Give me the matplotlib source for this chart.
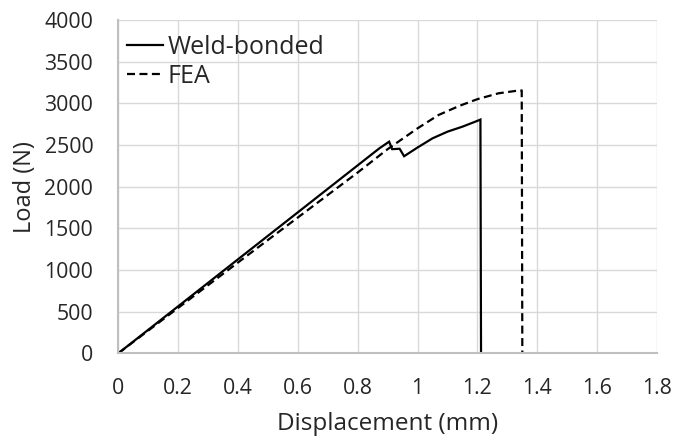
import matplotlib
matplotlib.use("Agg")
import matplotlib.pyplot as plt

plt.rcParams['font.family'] = ['Open Sans', 'DejaVu Sans']

weld_x = [0, 0.2, 0.4, 0.6, 0.8, 0.872, 0.905, 0.915, 0.94, 0.955, 1.0, 1.05, 1.1, 1.15, 1.2, 1.21, 1.212]
weld_y = [0, 564, 1128, 1692, 2256, 2459, 2540, 2450, 2455, 2365, 2470, 2580, 2660, 2720, 2790, 2805, 0]

fea_x = [0, 0.2, 0.4, 0.6, 0.8, 0.9, 1.0, 1.07, 1.14, 1.2, 1.27, 1.33, 1.348, 1.35]
fea_y = [0, 545, 1090, 1630, 2170, 2450, 2700, 2860, 2970, 3050, 3120, 3150, 3155, 0]

x_ticks = [0, 0.2, 0.4, 0.6, 0.8, 1.0, 1.2, 1.4, 1.6, 1.8]
x_labels = ['0', '0.2', '0.4', '0.6', '0.8', '1', '1.2', '1.4', '1.6', '1.8']
y_ticks = [0, 500, 1000, 1500, 2000, 2500, 3000, 3500, 4000]

txt = '#262626'
fig = plt.figure(figsize=(6.88, 4.42), dpi=100)
ax = fig.add_axes([118.3 / 688, 1 - 353.3 / 442, (657 - 118.3) / 688, (353.3 - 20) / 442])

ax.plot(weld_x, weld_y, color='black', lw=1.6, label='Weld-bonded', solid_joinstyle='miter')
ax.plot(fea_x, fea_y, color='black', lw=1.6, ls=(0, (3.6, 2.0)), label='FEA')

ax.set_xlim(0, 1.8)
ax.set_ylim(0, 4000)
ax.set_xticks(x_ticks)
ax.set_xticklabels(x_labels)
ax.set_yticks(y_ticks)
ax.grid(True, color='#d9d9d9', lw=1.0)
ax.set_axisbelow(True)
for s in ['top', 'right']:
    ax.spines[s].set_visible(False)
for s in ['left', 'bottom']:
    ax.spines[s].set_color('#bfbfbf')
    ax.spines[s].set_linewidth(1.5)
ax.tick_params(length=0, labelsize=15.3, colors=txt)
ax.tick_params(axis='x', pad=17.5)
ax.tick_params(axis='y', pad=18)
ax.set_xlabel('Displacement (mm)', fontsize=17.5, color=txt, labelpad=10)
ax.set_ylabel('Load (N)', fontsize=17, color=txt, labelpad=5)

leg = ax.legend(loc='upper left', bbox_to_anchor=(126.7 / 688, 1 - 35 / 442),
                bbox_transform=fig.transFigure, frameon=False, fontsize=18,
                handlelength=1.45, handletextpad=0.2, labelspacing=0.15,
                borderaxespad=0, borderpad=0)
for t in leg.get_texts():
    t.set_color(txt)

fig.savefig('out.png', dpi=100)
